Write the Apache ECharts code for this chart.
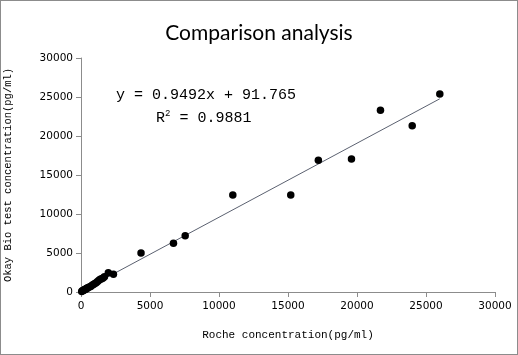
<!DOCTYPE html>
<html><head><meta charset="utf-8">
<script src="https://cdn.jsdelivr.net/npm/echarts@6/dist/echarts.min.js"></script>
<style>
html,body{margin:0;padding:0;background:#fff;}
#c{width:518px;height:355px;box-sizing:border-box;border:1px solid #8c8c8c;}
</style></head><body>
<div id="c"></div>
<script>
const titleText = "Comparison analysis";
const xName = "Roche concentration(pg/ml)";
const yName = "Okay Bio test concentration(pg/ml)";
const rocheValues = [50,100,150,200,250,300,350,400,450,500,600,700,800,900,1000,1100,1200,1300,1400,1500,1600,1700,1980,2350,4350,6700,7550,11000,15200,17200,19600,21700,24000,26000];
const okayValues  = [80,150,200,230,300,350,380,420,500,560,650,720,850,950,1100,1200,1350,1500,1650,1700,1800,1950,2470,2260,5000,6250,7200,12450,12450,16900,17050,23300,21300,25400];
const slope = 0.9492;
const intercept = 91.765;
const rSquared = "0.9881";
const fitRange = [0, 26000];

const scatterData = rocheValues.map((v,i)=>[v, okayValues[i]]);
const lineData = fitRange.map(x=>[x, slope*x+intercept]);

const chart = echarts.init(document.getElementById('c'), null, {renderer:'canvas'});
const axisFont = {fontFamily:'DejaVu Sans', fontSize:10.5, color:'#000', formatter:v=>String(v)};
chart.setOption({
  animation:false,
  backgroundColor:'#fff',
  title:{text:titleText,left:'center',top:17,textStyle:{fontFamily:'Lato',fontSize:21,fontWeight:'normal',color:'#000'}},
  grid:{left:80,right:22,top:57,bottom:62,containLabel:false,outerBoundsMode:'none'},
  xAxis:{type:'value',min:0,max:30000,interval:5000,
    name:xName,nameLocation:'middle',nameGap:38,
    nameTextStyle:{fontFamily:'Liberation Mono',fontSize:11,color:'#000'},
    axisLine:{lineStyle:{color:'#8c8c8c'}},axisTick:{show:true,length:5,lineStyle:{color:'#8c8c8c'}},
    axisLabel:Object.assign({margin:9},axisFont),splitLine:{show:false}},
  yAxis:{type:'value',min:0,max:30000,interval:5000,
    name:yName,nameLocation:'middle',nameGap:67,
    nameTextStyle:{fontFamily:'Liberation Mono',fontSize:10.5,color:'#000'},
    axisLine:{show:true,lineStyle:{color:'#8c8c8c'}},axisTick:{show:true,length:5,lineStyle:{color:'#8c8c8c'}},
    axisLabel:Object.assign({margin:8},axisFont),splitLine:{show:false}},
  graphic:[{type:'text',left:115,top:87,style:{
      text:'y = 0.9492x + 91.765',
      font:'15px "Liberation Mono"',fill:'#000'}},
    {type:'text',left:155,top:108,style:{
      text:'{a|R}{s|2}{a| = '+rSquared+'}',
      rich:{a:{fontFamily:'Liberation Mono',fontSize:15,color:'#000',verticalAlign:'bottom'},
            s:{fontFamily:'Liberation Mono',fontSize:9,color:'#000',verticalAlign:'top',padding:[0,0,8,0]}}}}],
  series:[
    {type:'line',data:lineData,symbol:'none',lineStyle:{color:'#5b6170',width:1},silent:true,z:1},
    {type:'scatter',data:scatterData,symbol:'circle',symbolSize:7.5,itemStyle:{color:'#000',opacity:1},z:2}
  ]
});
</script></body></html>
